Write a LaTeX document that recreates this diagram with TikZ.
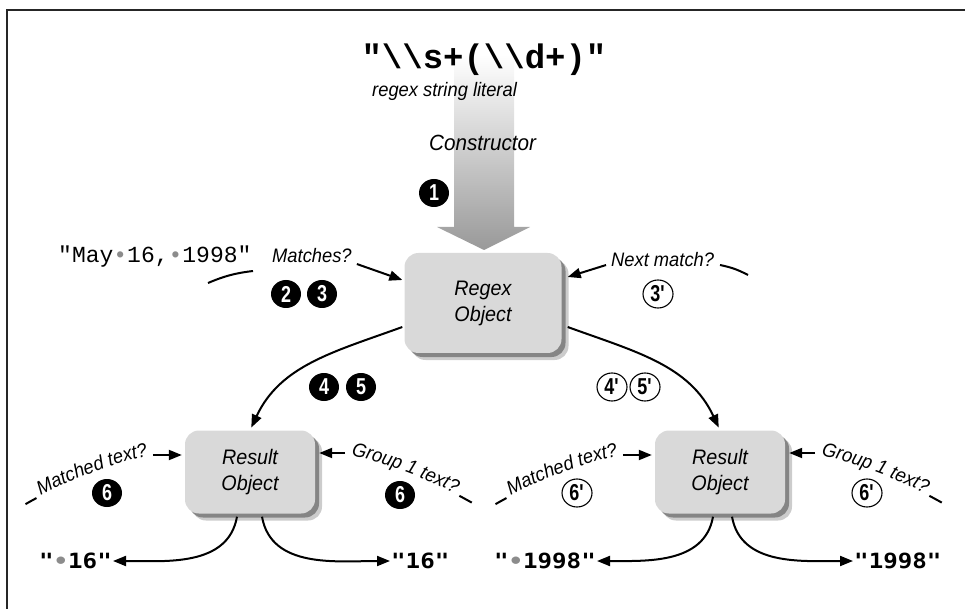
\documentclass[tikz,border=0pt]{standalone}
\usepackage{fontspec}
\setmainfont{Liberation Sans}
\newfontfamily\lblfam{Liberation Sans}[FakeStretch=0.94]
\newfontfamily\numfam{Liberation Sans}[FakeStretch=0.78]
\newfontfamily\litfam{Liberation Mono}
\newfontfamily\outfam{DejaVu Sans Mono}[FakeStretch=1.15]
\usetikzlibrary{arrows.meta,calc,positioning,shapes.geometric,shadows,decorations.text}

\newcommand{\lbltxt}{\lblfam\itshape\fontsize{19.5}{22}\selectfont}
\newcommand{\gdot}{{\color{black!45}•}}
\newcommand{\prm}{\textquotesingle}

\tikzset{
  obj/.style={rounded corners=14pt, fill=black!15, align=center,
    font=\lblfam\itshape\fontsize{21}{26}\selectfont,
    drop shadow={shadow xshift=7pt, shadow yshift=-7pt, fill=black, opacity=.2},
    drop shadow={shadow xshift=4pt, shadow yshift=-4pt, fill=black, opacity=.35}},
  bnum/.style={ellipse, fill=black, text=white, inner sep=0pt,
    minimum width=30pt, minimum height=28pt,
    font=\numfam\bfseries\fontsize{23}{23}\selectfont},
  wnum/.style={ellipse, draw, line width=1.1pt, fill=white, inner sep=0pt,
    minimum width=30pt, minimum height=28pt,
    font=\numfam\bfseries\fontsize{23}{23}\selectfont},
  lbl/.style={font=\lbltxt, inner sep=0pt},
  link/.style={-{Triangle[length=13pt,width=10pt]}, line width=2pt},
  tick/.style={line width=2pt},
  outtxt/.style={font=\outfam\bfseries\fontsize{21}{24}\selectfont, inner sep=1pt}
}

\begin{document}
\begin{tikzpicture}[x=1pt,y=1pt]
  \useasboundingbox (0,0) rectangle (965,608);
  \draw[line width=1.6pt,black!85] (7,-10) -- (7,598) -- (980,598);

  % constructor arrow
  \shade[top color=white,bottom color=black!40]
    (454,553) -- (514,553) -- (514,381) -- (530,381) -- (484,358)
    -- (437,381) -- (454,381) -- cycle;

  \node[anchor=base] (lit) at (484,539)
    {\litfam\bfseries\fontsize{34}{36}\selectfont "\textbackslash\textbackslash s+(\textbackslash\textbackslash d+)"};
  \node[lbl,anchor=base west] (litname) at (372,511) {regex string literal};
  \node[lbl,anchor=base west,font=\lblfam\itshape\fontsize{22}{24}\selectfont] (ctor) at (429,457) {Constructor};
  \node[bnum] (n1) at (434,415) {1};

  % objects
  \node[obj,minimum width=157pt,minimum height=100pt] (regex) at (483,305) {Regex\\Object};
  \node[obj,minimum width=130pt,minimum height=83pt] (lres) at (250,136) {Result\\Object};
  \node[obj,minimum width=130pt,minimum height=83pt] (rres) at (720,136) {Result\\Object};

  % matching
  \node[anchor=base west,inner sep=0pt] (str) at (58,345)
    {\litfam\fontsize{23}{26}\selectfont "May\gdot16,\gdot1998"};
  \node[lbl,anchor=base west] (matches) at (272,345) {Matches?};
  \draw[tick] (208,325) to[bend left=8] (253,337);
  \node[bnum] (n2) at (286,314) {2};
  \node[bnum] (n3) at (322,314) {3};
  \draw[link] ($(matches.east)+(5,-8)$) -- ($(regex.west)+(-2,23)$);

  \node[lbl,anchor=base west] (next) at (611,341) {Next match?};
  \draw[link] ($(next.west)+(-5,-5)$) -- ($(regex.east)+(6,26)$);
  \draw[tick] (720,343) to[bend left=8] (748,333);
  \node[wnum] (n3b) at (658,314) {3\prm};

  \draw[link,shorten >=3pt] ($(regex.west)+(-2,-24)$) to[out=-160,in=65] (lres.north);
  \draw[link,shorten >=3pt] ($(regex.east)+(6,-24)$) to[out=-20,in=115] (rres.north);
  \node[bnum] (n4) at (324,221) {4};
  \node[bnum] (n5) at (361,221) {5};
  \node[wnum] (n4b) at (612,221) {4\prm};
  \node[wnum] (n5b) at (645,221) {5\prm};

  % left result
  \coordinate (lc) at ($(lres)+(0,-421)$);
  \draw[tick] ($(lc)+(120:449)$) arc[start angle=120,end angle=118.4,radius=449];
  \path[decorate,decoration={text along path,text={|\lbltxt|Matched text?}}]
    ($(lc)+(117.8:449)$) arc[start angle=117.8,end angle=98,radius=449];
  \path[decorate,decoration={text along path,text={|\lbltxt|Group 1 text?},text align=right}]
    ($(lc)+(80:449)$) arc[start angle=80,end angle=62.8,radius=449];
  \draw[tick] ($(lc)+(62.2:449)$) arc[start angle=62.2,end angle=60.4,radius=449];
  \draw[link] ($(lres.west)+(-32,17)$) -- ($(lres.west)+(-3,17)$);
  \draw[link] ($(lres.east)+(30,19)$) -- ($(lres.east)+(4,19)$);
  \node[bnum] (n6) at (107,115) {6};
  \node[bnum] (n6g) at (400,113) {6};

  \node[outtxt,anchor=east] (s1) at (113,47) {"\gdot16"};
  \node[outtxt,anchor=west] (g1) at (390,47) {"16"};
  \draw[link] ($(lres.south)+(-13,-3)$) to[out=-100,in=0] (s1.east);
  \draw[link] ($(lres.south)+(12,-3)$) to[out=-80,in=180] (g1.west);

  % right result
  \coordinate (rc) at ($(rres)+(0,-421)$);
  \draw[tick] ($(rc)+(120:449)$) arc[start angle=120,end angle=118.4,radius=449];
  \path[decorate,decoration={text along path,text={|\lbltxt|Matched text?}}]
    ($(rc)+(117.8:449)$) arc[start angle=117.8,end angle=98,radius=449];
  \path[decorate,decoration={text along path,text={|\lbltxt|Group 1 text?},text align=right}]
    ($(rc)+(80:449)$) arc[start angle=80,end angle=62.8,radius=449];
  \draw[tick] ($(rc)+(62.2:449)$) arc[start angle=62.2,end angle=60.4,radius=449];
  \draw[link] ($(rres.west)+(-32,17)$) -- ($(rres.west)+(-3,17)$);
  \draw[link] ($(rres.east)+(30,19)$) -- ($(rres.east)+(4,19)$);
  \node[wnum] (n6b) at (577,115) {6\prm};
  \node[wnum] (n6gb) at (867,115) {6\prm};

  \node[outtxt,anchor=east] (s2) at (597,47) {"\gdot1998"};
  \node[outtxt,anchor=west] (g2) at (853,47) {"1998"};
  \draw[link] ($(rres.south)+(-7,-3)$) to[out=-100,in=0] (s2.east);
  \draw[link] ($(rres.south)+(12,-3)$) to[out=-80,in=180] (g2.west);
\end{tikzpicture}
\end{document}
